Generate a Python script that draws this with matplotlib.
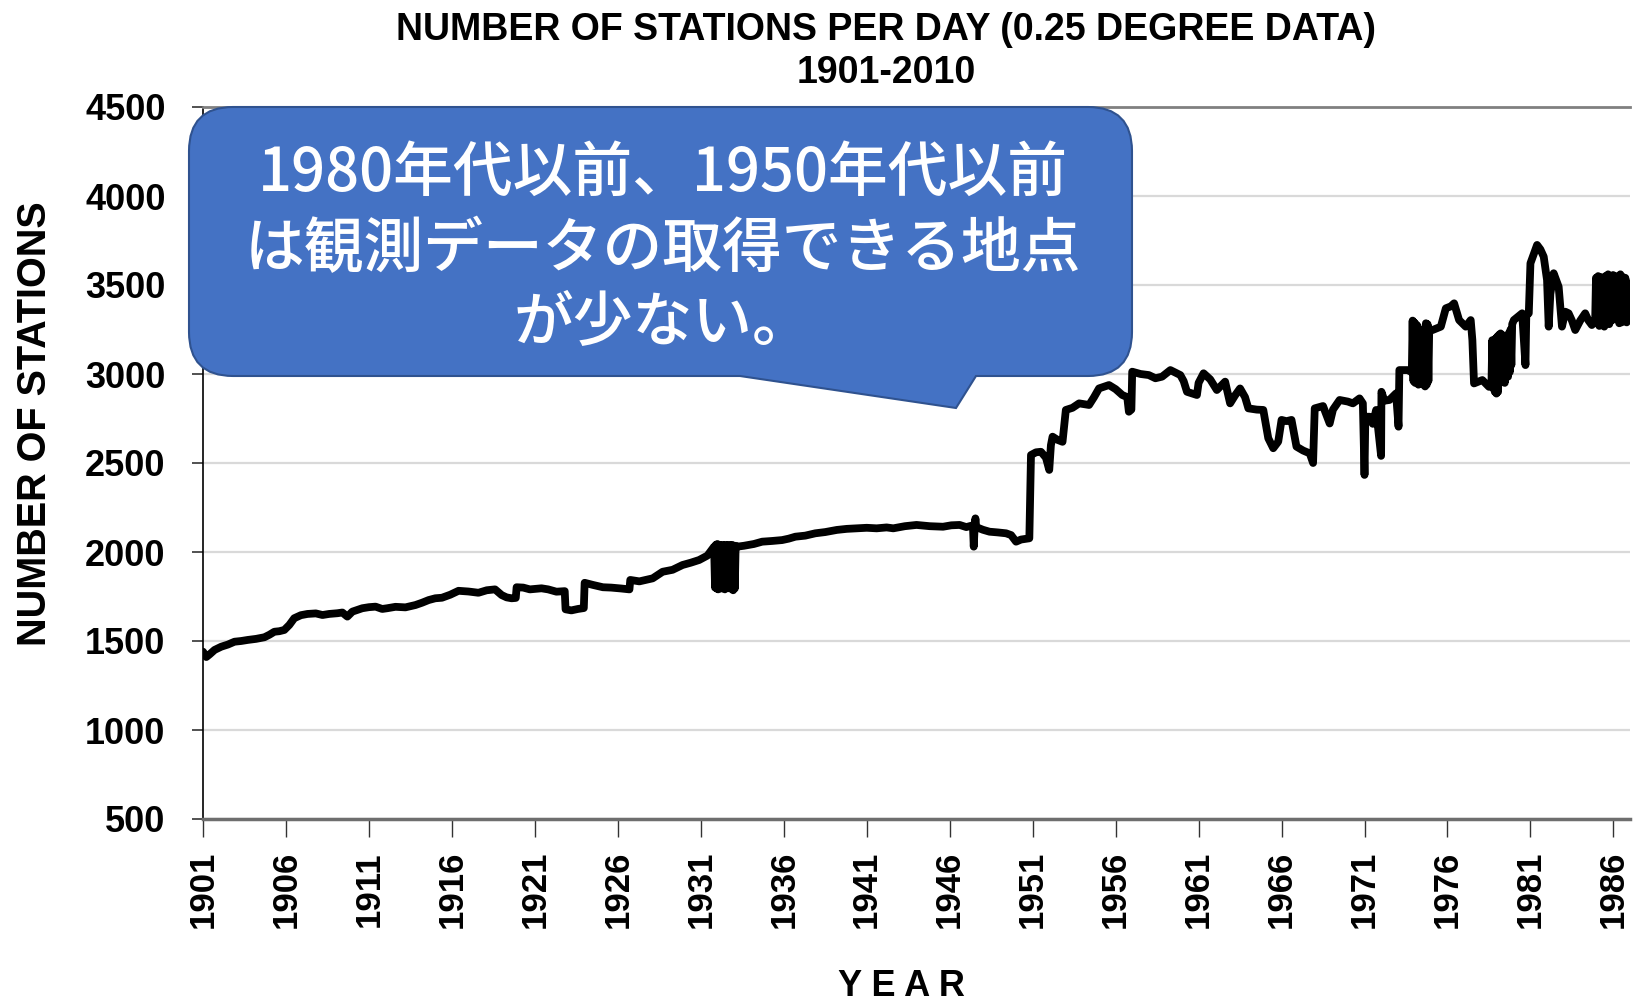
import numpy as np
import matplotlib.pyplot as plt
from matplotlib.path import Path
from matplotlib.patches import PathPatch

# stations per day (year, count)
base_years = [
    1901.0, 1901.2, 1901.4, 1901.7, 1902.1, 1902.5, 1902.9, 1903.3, 1903.7, 1904.2,
    1904.7, 1905.0, 1905.3, 1905.6, 1905.9, 1906.2, 1906.5, 1906.9, 1907.3, 1907.8,
    1908.2, 1908.6, 1909.1, 1909.4, 1909.7, 1910.0, 1910.6, 1911.0, 1911.4, 1911.8,
    1912.1, 1912.6, 1913.2, 1913.8, 1914.2, 1914.6, 1915.0, 1915.4, 1915.9, 1916.4,
    1917.0, 1917.6, 1918.1, 1918.6, 1919.0, 1919.3, 1919.6, 1919.85, 1919.9, 1920.3,
    1920.7, 1921.4, 1921.8, 1922.3, 1922.8, 1922.85, 1923.2, 1923.6, 1923.95, 1924.0,
    1924.5, 1925.1, 1925.6, 1926.2, 1926.7, 1926.75, 1927.3, 1928.1, 1928.7, 1929.3,
    1929.9, 1930.4, 1930.9, 1931.4, 1931.8,
]
base_counts = [
    1440, 1410, 1425, 1450, 1468, 1480, 1496, 1500, 1506, 1512,
    1521, 1535, 1552, 1555, 1562, 1590, 1628, 1645, 1652, 1655,
    1646, 1652, 1656, 1660, 1637, 1665, 1684, 1690, 1693, 1680,
    1684, 1692, 1689, 1702, 1715, 1730, 1740, 1743, 1760, 1782,
    1778, 1771, 1785, 1790, 1758, 1745, 1740, 1742, 1802, 1800,
    1790, 1796, 1790, 1777, 1780, 1678, 1672, 1680, 1685, 1827,
    1815, 1802, 1800, 1795, 1790, 1843, 1835, 1852, 1889, 1900,
    1927, 1940, 1955, 1980, 2030,
]

# noisy stretch in 1932-33
burst32_years = [1931.86, 1931.9, 1931.95, 1932.0, 1932.05, 1932.1, 1932.15, 1932.2, 1932.25,
                 1932.3, 1932.35, 1932.4, 1932.45, 1932.5, 1932.55, 1932.6, 1932.65, 1932.7,
                 1932.75, 1932.8, 1932.85, 1932.9, 1932.95, 1933.0, 1933.05, 1933.1]
burst32_counts = [1800, 2040, 1795, 2045, 1790, 2040, 1800, 2035, 1795,
                  2040, 1805, 2030, 1790, 2040, 1800, 2035, 1810, 2040,
                  1795, 2035, 1800, 2040, 1785, 2030, 1795, 2035]

mid_years = [
    1933.2, 1933.6, 1934.2, 1934.7, 1935.3, 1935.9, 1936.3, 1936.7, 1937.3, 1937.9,
    1938.5, 1939.2, 1939.8, 1940.4, 1941.0, 1941.6, 1942.2, 1942.6, 1943.3, 1944.0,
    1944.8, 1945.6, 1946.1, 1946.6, 1947.0, 1947.4, 1947.45, 1947.5, 1947.55, 1947.6,
    1948.0, 1948.4, 1948.9, 1949.4, 1949.7, 1950.0, 1950.3, 1950.8, 1950.9, 1951.2,
    1951.5, 1951.8, 1952.0, 1952.1, 1952.2, 1952.5, 1952.8, 1953.0, 1953.4, 1953.8,
    1954.4, 1954.7, 1955.0, 1955.6, 1956.0, 1956.4, 1956.7, 1956.8, 1956.95, 1957.0,
    1957.5, 1958.0, 1958.4, 1958.8, 1959.3, 1959.9, 1960.1, 1960.3, 1960.9, 1961.0,
    1961.3, 1961.7, 1962.1, 1962.6, 1962.9, 1963.2, 1963.5, 1963.8, 1964.0, 1964.5,
    1964.9, 1965.2, 1965.5, 1965.8, 1966.0, 1966.3, 1966.6, 1966.9, 1967.3, 1967.7,
    1967.9, 1968.0, 1968.5, 1968.9, 1969.1, 1969.5, 1970.0, 1970.3, 1970.7, 1970.9,
    1971.0, 1971.05, 1971.3, 1971.5, 1971.7, 1972.0, 1972.02, 1972.2, 1972.5, 1972.9,
    1973.05, 1973.1, 1973.6, 1973.85,
]
mid_counts = [
    2030, 2035, 2045, 2058, 2062, 2067, 2075, 2086, 2092, 2105,
    2112, 2124, 2130, 2133, 2136, 2133, 2138, 2133, 2145, 2152,
    2145, 2142, 2150, 2152, 2140, 2150, 2030, 2130, 2189, 2140,
    2125, 2114, 2110, 2105, 2095, 2058, 2070, 2077, 2545, 2560,
    2563, 2530, 2461, 2600, 2648, 2630, 2619, 2798, 2810, 2835,
    2826, 2870, 2919, 2938, 2915, 2882, 2870, 2788, 2800, 3013,
    3000, 2994, 2976, 2985, 3022, 2994, 2960, 2900, 2882, 2950,
    3004, 2970, 2910, 2957, 2835, 2880, 2919, 2870, 2807, 2800,
    2798, 2639, 2583, 2620, 2742, 2735, 2742, 2592, 2570, 2554,
    2500, 2807, 2820, 2722, 2800, 2854, 2845, 2835, 2863, 2835,
    2433, 2760, 2760, 2720, 2798, 2540, 2900, 2850, 2854, 2891,
    2704, 3022, 3022, 3010,
]

burst74_years = [1973.9, 1973.95, 1974.0, 1974.05, 1974.1, 1974.15, 1974.2, 1974.25, 1974.3,
                 1974.35, 1974.4, 1974.45, 1974.5, 1974.55, 1974.6, 1974.65, 1974.7, 1974.75,
                 1974.8, 1974.85, 1974.9]
burst74_counts = [3300, 2960, 3290, 2950, 3280, 2990, 3270, 2940, 3000, 2960,
                  3010, 2950, 2985, 2940, 3020, 2930, 3285, 2940, 3280, 2960, 3250]

late_years = [1975.1, 1975.6, 1975.9, 1976.2, 1976.4, 1976.7, 1977.1, 1977.4, 1977.5, 1977.6,
              1978.1, 1978.5]
late_counts = [3247, 3266, 3369, 3380, 3397, 3303, 3266, 3303, 3191, 2947,
               2966, 2928]

burst79_years = [1978.65, 1978.7, 1978.75, 1978.8, 1978.85, 1978.9, 1978.95, 1979.0, 1979.05,
                 1979.1, 1979.15, 1979.2, 1979.25, 1979.3, 1979.35, 1979.4, 1979.45, 1979.5,
                 1979.55, 1979.6, 1979.65, 1979.7, 1979.75, 1979.8, 1979.85, 1979.9]
burst79_counts = [2940, 3190, 2920, 3180, 2900, 3200, 2890, 3210, 2900, 3220,
                  2950, 3228, 2960, 3220, 2980, 3180, 2950, 3150, 2990, 3200,
                  2985, 3230, 3010, 3250, 3050, 3280]

end_years = [1980.0, 1980.5, 1980.7, 1980.75, 1980.9, 1981.0, 1981.4, 1981.6, 1981.8, 1982.0,
             1982.1, 1982.2, 1982.4, 1982.7, 1982.9, 1983.1, 1983.3, 1983.5, 1983.7, 1984.0,
             1984.3, 1984.5, 1984.7, 1984.9]
end_counts = [3303, 3341, 3050, 3330, 3341, 3622, 3725, 3700, 3659, 3528,
              3266, 3450, 3566, 3490, 3266, 3350, 3341, 3300, 3247, 3300,
              3341, 3300, 3275, 3300]

burst85_years = [1984.95, 1985.0, 1985.08, 1985.15, 1985.22, 1985.3, 1985.38, 1985.45, 1985.52,
                 1985.6, 1985.68, 1985.75, 1985.82, 1985.9, 1985.98, 1986.05, 1986.12, 1986.2,
                 1986.28, 1986.35, 1986.42, 1986.5, 1986.58, 1986.65, 1986.72, 1986.8]
burst85_counts = [3540, 3290, 3550, 3270, 3545, 3300, 3530, 3266, 3550, 3290,
                  3560, 3280, 3545, 3300, 3556, 3320, 3550, 3310, 3540, 3285,
                  3560, 3290, 3545, 3300, 3540, 3290]

tail_years = [1986.9, 1987.0]
tail_counts = [3509, 3500]

years = (base_years + burst32_years + mid_years + burst74_years + late_years
         + burst79_years + end_years + burst85_years + tail_years)
counts = (base_counts + burst32_counts + mid_counts + burst74_counts + late_counts
          + burst79_counts + end_counts + burst85_counts + tail_counts)

year_ticks = list(range(1901, 1987, 5))
count_ticks = list(range(500, 4501, 500))

note_lines = ['1980年代以前、1950年代以前', 'は観測データの取得できる地点', 'が少ない。']

W, H = 1647, 1007
fig = plt.figure(figsize=(W / 100, H / 100), dpi=100)
ax = fig.add_axes([203 / W, 1 - 819 / H, (1630 - 203) / W, (819 - 107) / H])

ax.plot(years, counts, color='black', lw=5.6, solid_joinstyle='round',
        solid_capstyle='round', zorder=3)

ax.set_xlim(1901, 1987.0)
ax.set_ylim(500, 4500)
ax.set_xticks(year_ticks)
ax.set_yticks(count_ticks)
ax.set_xticklabels([str(y) for y in year_ticks], rotation=90,
                   fontfamily='Liberation Sans', fontweight='bold', fontsize=25)
ax.set_yticklabels([str(c) for c in count_ticks],
                   fontfamily='Liberation Sans', fontweight='bold', fontsize=26)
ax.tick_params(axis='x', direction='out', length=13, width=1.0, pad=10, color='#333333')
ax.tick_params(axis='y', direction='out', length=8, width=1.2, pad=19, color='#333333')

ax.yaxis.grid(True, color='#d9d9d9', lw=1.6)
ax.set_axisbelow(True)
ax.spines['right'].set_visible(False)
ax.spines['top'].set_color('#808080')
ax.spines['top'].set_linewidth(2.0)
ax.spines['bottom'].set_color('#6e6e6e')
ax.spines['bottom'].set_linewidth(2.5)
ax.spines['left'].set_color('black')
ax.spines['left'].set_linewidth(1.2)

lat = ['Liberation Sans Narrow', 'Liberation Sans']
fig.text(886 / W, 1 - 30 / H, 'NUMBER OF STATIONS PER DAY (0.25 DEGREE DATA)',
         ha='center', va='center', fontsize=27, fontweight='bold', family=lat)
fig.text(886 / W, 1 - 73 / H, '1901-2010', ha='center', va='center',
         fontsize=27, fontweight='bold', family=lat)
fig.text(35 / W, 1 - 424 / H, 'NUMBER OF STATIONS', rotation=90, ha='center',
         va='center', fontsize=28.5, fontweight='bold', family='Liberation Sans')
fig.text(901 / W, 1 - 986 / H, 'Y E A R', ha='center', va='center',
         fontsize=26, fontweight='bold', family='Liberation Sans')

# speech-bubble callout, pixel coords (origin bottom-left)
x0, x1 = 189, 1132
y0, y1 = H - 376, H - 107
r = 44
tip = (956, H - 408)
verts = [
    (x0 + r, y0), (740, y0), tip, (976, y0), (x1 - r, y0),
    (x1, y0), (x1, y0 + r),
    (x1, y1 - r),
    (x1, y1), (x1 - r, y1),
    (x0 + r, y1),
    (x0, y1), (x0, y1 - r),
    (x0, y0 + r),
    (x0, y0), (x0 + r, y0),
    (x0 + r, y0),
]
codes = [Path.MOVETO, Path.LINETO, Path.LINETO, Path.LINETO, Path.LINETO,
         Path.CURVE3, Path.CURVE3,
         Path.LINETO,
         Path.CURVE3, Path.CURVE3,
         Path.LINETO,
         Path.CURVE3, Path.CURVE3,
         Path.LINETO,
         Path.CURVE3, Path.CURVE3,
         Path.CLOSEPOLY]
verts = [(vx / 100, vy / 100) for vx, vy in verts]
bubble = PathPatch(Path(verts, codes), facecolor='#4472C4', edgecolor='#2F528F',
                   lw=1.5, transform=fig.dpi_scale_trans, zorder=5)
fig.patches.append(bubble)

cjk = ['Noto Sans CJK JP', 'DejaVu Sans']
for line, yc in zip(note_lines, [173, 250, 324]):
    fig.text(663 / W, 1 - yc / H, line, ha='center', va='center', color='white',
             fontsize=43, fontweight='medium', family=cjk, zorder=6)

fig.savefig('out.png', dpi=100)
